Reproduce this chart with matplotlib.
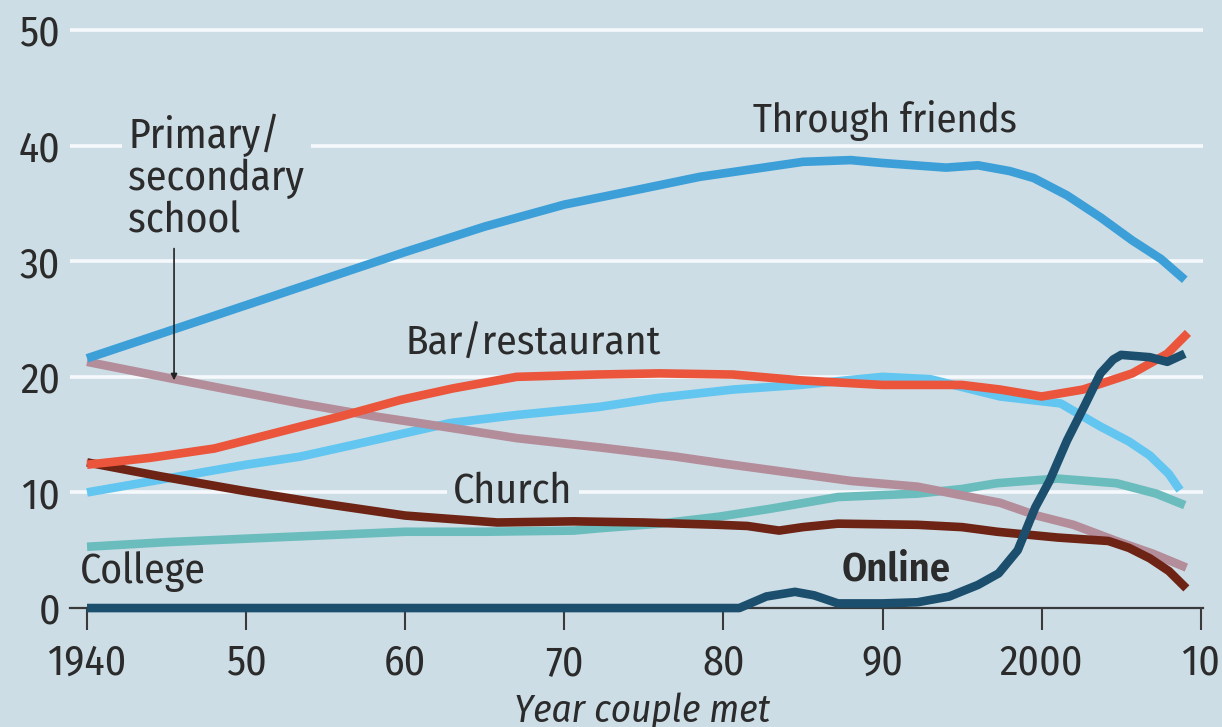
import matplotlib
matplotlib.use("Agg")
import matplotlib.pyplot as plt

plt.rcParams['font.family'] = ['Fira Sans Condensed', 'Roboto Condensed', 'PT Sans Narrow',
                               'Liberation Sans', 'DejaVu Sans']

# ---------------- data ----------------
friends_years = [1940, 1945, 1950, 1955, 1960, 1965, 1970, 1975, 1978.5, 1981, 1985, 1988,
                 1990, 1994, 1996, 1998, 1999.5, 2001.6, 2003.7, 2005.7, 2007.5, 2009]
friends = [21.6, 23.9, 26.2, 28.5, 30.8, 33.0, 34.9, 36.3, 37.3, 37.8, 38.6, 38.75,
           38.5, 38.1, 38.3, 37.8, 37.2, 35.7, 33.8, 31.8, 30.2, 28.4]

bar_years = [1940, 1944, 1948, 1950, 1953.4, 1956, 1959.7, 1963, 1967, 1972, 1976, 1980.6,
             1984.8, 1990, 1995, 1997.4, 2000, 2002.6, 2005.7, 2007.9, 2009.2]
bar = [12.4, 13.0, 13.8, 14.5, 15.7, 16.6, 18.0, 19.0, 20.0, 20.2, 20.3, 20.2,
       19.7, 19.3, 19.3, 18.9, 18.3, 18.9, 20.3, 22.0, 23.8]

work_years = [1940, 1945, 1950, 1953.4, 1957, 1962.8, 1967, 1972.2, 1976, 1980.6, 1984.8,
              1990, 1993, 1997.4, 2001.2, 2003.7, 2005.5, 2006.8, 2008, 2008.7]
work = [10.0, 11.2, 12.4, 13.1, 14.2, 16.0, 16.7, 17.4, 18.2, 18.9, 19.3,
        20.0, 19.8, 18.3, 17.7, 15.7, 14.4, 13.2, 11.6, 10.2]

school_years = [1940, 1945.5, 1950, 1953.4, 1958, 1962.8, 1967, 1972.2, 1977, 1980, 1984.8,
                1988, 1992.2, 1997.4, 1999.7, 2002, 2004.7, 2007, 2009.1]
school = [21.3, 19.8, 18.6, 17.7, 16.6, 15.6, 14.7, 13.9, 13.1, 12.5, 11.6,
          11.0, 10.5, 9.1, 8.0, 7.2, 5.8, 4.7, 3.5]

college_years = [1940, 1945, 1950, 1955, 1960, 1965, 1970.6, 1972.2, 1976, 1979.7, 1983,
                 1987.2, 1992.2, 1995, 1997.2, 2001, 2004.7, 2007.2, 2009]
college = [5.3, 5.7, 6.0, 6.3, 6.6, 6.6, 6.7, 6.9, 7.3, 7.9, 8.6,
           9.6, 9.9, 10.3, 10.8, 11.2, 10.8, 9.9, 8.9]

church_years = [1940, 1944.6, 1950, 1955, 1960, 1965.8, 1970.6, 1975, 1979.7, 1981.5, 1983.5,
                1985, 1987.2, 1992.2, 1995, 1997.2, 2001, 2004.2, 2005.5, 2006.8, 2008, 2009.1]
church = [12.6, 11.4, 10.1, 9.0, 8.0, 7.4, 7.5, 7.4, 7.2, 7.1, 6.7,
          7.0, 7.3, 7.2, 7.0, 6.6, 6.1, 5.8, 5.2, 4.3, 3.2, 1.7]

online_years = [1940, 1981, 1982.7, 1984.5, 1985.7, 1987.2, 1990, 1992.2, 1994.2, 1996,
                1997.3, 1998.5, 1999.6, 2000.5, 2001.6, 2002.7, 2003.7, 2004.5, 2005,
                2006.8, 2007.9, 2009]
online = [0, 0, 1.0, 1.4, 1.1, 0.4, 0.4, 0.5, 1.0, 2.0,
          3.0, 5.0, 8.7, 11.0, 14.5, 17.5, 20.3, 21.5, 21.9,
          21.7, 21.3, 22.0]

x_ticks = [1940, 1950, 1960, 1970, 1980, 1990, 2000, 2010]
x_ticklabels = ["1940", "50", "60", "70", "80", "90", "2000", "10"]
y_ticks = [0, 10, 20, 30, 40, 50]

# ---------------- style ----------------
BG = '#cddde6'
TXT = '#2b2b2b'
LW = 6.2
FS = 30

fig = plt.figure(figsize=(12.22, 7.27), dpi=100, facecolor=BG)
ax = fig.add_axes([70 / 1222, 1 - 619.6 / 727, 1132.6 / 1222, 619.6 / 727])
ax.set_facecolor(BG)
ax.set_xlim(1938.93, 2010.12)
ax.set_ylim(-1, 52.6)

# gridlines
for v in y_ticks[1:]:
    ax.axhline(v, color='#f5f9fb', lw=2.6, zorder=1)

series = [
    (college_years, college, '#6bbdbd'),
    (work_years, work, '#62c6f0'),
    (school_years, school, '#b48d9a'),
    (church_years, church, '#6d2415'),
    (friends_years, friends, '#3d9fd8'),
    (bar_years, bar, '#ea553b'),
    (online_years, online, '#1b4f6d'),
]
for i, (xs, ys, c) in enumerate(series):
    ax.plot(xs, ys, color=c, lw=LW, solid_capstyle='butt', solid_joinstyle='round',
            zorder=3 + i, clip_on=False)

# axes / ticks
for s in ['left', 'right', 'top']:
    ax.spines[s].set_visible(False)
ax.spines['bottom'].set_position(('data', 0))
ax.spines['bottom'].set_color('#3a3a3a')
ax.spines['bottom'].set_linewidth(1.6)
ax.spines['bottom'].set_zorder(2.5)
ax.set_xticks(x_ticks)
ax.set_xticklabels(x_ticklabels)
ax.set_yticks(y_ticks)
ax.tick_params(axis='x', length=16, width=1.5, color='#3a3a3a', pad=9,
               labelsize=FS, labelcolor=TXT)
ax.tick_params(axis='y', length=0, pad=7, labelsize=FS, labelcolor=TXT)

# annotations
ax.text(1981.86, 41.2, "Through friends", fontsize=29.2, color=TXT, va='baseline', ha='left', zorder=2)
ax.text(1960.0, 21.9, "Bar/restaurant", fontsize=29.8, color=TXT, va='baseline', ha='left', zorder=2)
ax.text(1963.0, 9.1, "Church", fontsize=FS, color=TXT, va='baseline', ha='left', zorder=2,
        bbox=dict(boxstyle='square,pad=0.15', fc=BG, ec='none'))
ax.text(1939.56, 2.16, "College", fontsize=FS, color=TXT, va='baseline', ha='left', zorder=2)
ax.text(1987.4, 2.42, "Online", fontsize=29, color=TXT, fontweight='semibold', va='baseline',
        ha='left', zorder=20)
ax.text(1942.6, 42.8, "Primary/\nsecondary\nschool", fontsize=FS, color=TXT, va='top', ha='left',
        linespacing=1.05, zorder=2,
        bbox=dict(boxstyle='square,pad=0.15', fc=BG, ec='none'))
ax.annotate("", xy=(1945.47, 19.7), xytext=(1945.47, 31.1),
            arrowprops=dict(arrowstyle='-|>', mutation_scale=9, lw=1.2, color='#222222',
                            shrinkA=0, shrinkB=0), zorder=15)

fig.text(642 / 1222, 1 - 722 / 727, "Year couple met", fontsize=28, style='italic', color=TXT,
         ha='center', va='baseline')

fig.savefig("out.png", dpi=100, facecolor=BG)
